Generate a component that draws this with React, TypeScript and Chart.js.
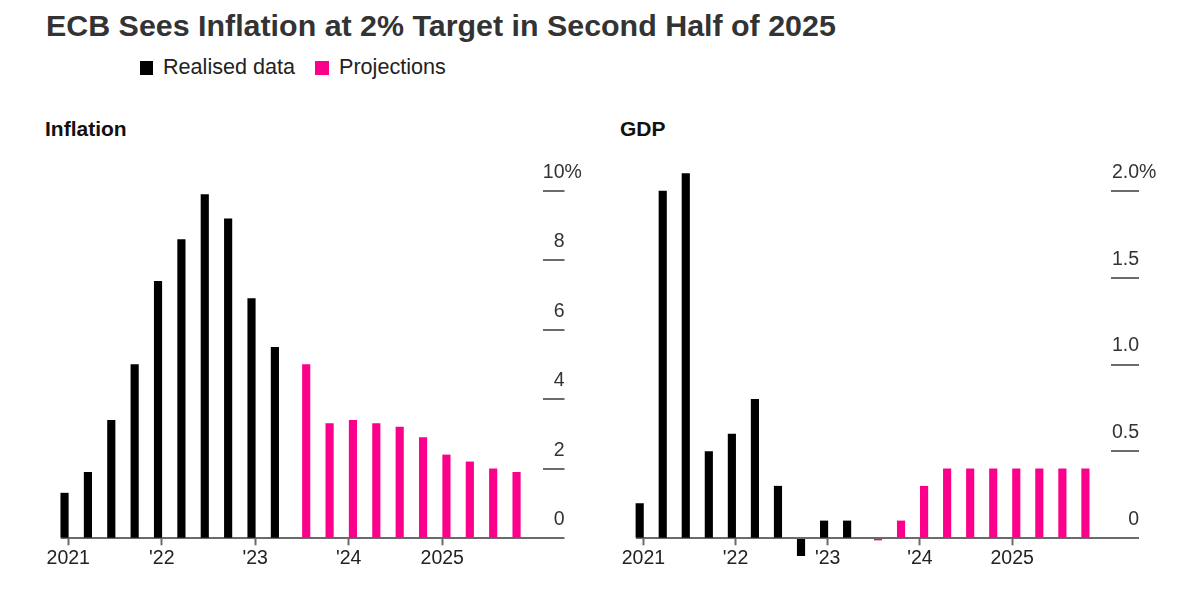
import React, { useEffect, useRef } from "react";
import { Chart, registerables } from "chart.js";

Chart.register(...registerables);

const FONT = '"Liberation Sans", Arial, Helvetica, sans-serif';

// ---- data ----
const quarters = [
  "2021 Q1", "2021 Q2", "2021 Q3", "2021 Q4",
  "2022 Q1", "2022 Q2", "2022 Q3", "2022 Q4",
  "2023 Q1", "2023 Q2", "2023 Q3", "2023 Q4",
  "2024 Q1", "2024 Q2", "2024 Q3", "2024 Q4",
  "2025 Q1", "2025 Q2", "2025 Q3", "2025 Q4",
];
const realisedQuarterCount = 10;

const inflationRealised = [1.3, 1.9, 3.4, 5.0, 7.4, 8.6, 9.9, 9.2, 6.9, 5.5];
const inflationProjected = [5.0, 3.3, 3.4, 3.3, 3.2, 2.9, 2.4, 2.2, 2.0, 1.9];

const gdpRealised = [0.2, 2.0, 2.1, 0.5, 0.6, 0.8, 0.3, -0.1, 0.1, 0.1];
const gdpProjected = [-0.01, 0.1, 0.3, 0.4, 0.4, 0.4, 0.4, 0.4, 0.4, 0.4];

const yearTickLabels = ["2021", "'22", "'23", "'24", "2025"];
const yearTickQuarter = ["2021 Q1", "2022 Q1", "2023 Q1", "2024 Q1", "2025 Q1"];

const inflationTickValues = [0, 2, 4, 6, 8, 10];
const inflationTickLabels = ["0", "2", "4", "6", "8", "10"];
const gdpTickValues = [0, 0.5, 1.0, 1.5, 2.0];
const gdpTickLabels = ["0", "0.5", "1.0", "1.5", "2.0"];

// ---- styling ----
const BLACK = "#000000";
const PINK = "#fb008a";
const AXIS_GRAY = "#6b6b6b";
const REALISED_SHIFT = -0.16;
const PROJECTED_SHIFT = 0.18;

const yLabelPlugin = {
  id: "yTickLabels",
  afterDraw(chart: any, _args: any, opts: any) {
    const scale = chart.scales.y;
    const ctx = chart.ctx;
    const xr = scale.left + opts.tickLength;
    ctx.save();
    ctx.font = `19.5px ${FONT}`;
    ctx.fillStyle = "#333333";
    ctx.textBaseline = "middle";
    const vals: number[] = opts.values;
    vals.forEach((v, k) => {
      const y = scale.getPixelForValue(v) - 18.7;
      ctx.textAlign = "right";
      ctx.fillText(opts.labels[k], xr, y);
      if (k === vals.length - 1) {
        ctx.textAlign = "left";
        ctx.fillText("%", xr, y);
      }
    });
    ctx.restore();
  },
};

type PanelProps = {
  left: number;
  realised: number[];
  projected: number[];
  yMax: number;
  tickValues: number[];
  tickLabels: string[];
  padLeft: number;
  padRight: number;
  yTickLength: number;
};

function Panel(props: PanelProps) {
  const ref = useRef<HTMLCanvasElement | null>(null);
  useEffect(() => {
    if (!ref.current) return;
    const tickPositions = yearTickQuarter.map((q) => quarters.indexOf(q));
    const chart = new Chart(ref.current, {
      type: "bar",
      data: {
        datasets: [
          {
            label: "Realised data",
            data: props.realised.map((v, i) => ({ x: i + REALISED_SHIFT, y: v })),
            backgroundColor: BLACK,
            barThickness: 7.5,
            grouped: false,
            clip: false,
            borderWidth: 0,
          } as any,
          {
            label: "Projections",
            data: props.projected.map((v, i) => ({
              x: realisedQuarterCount + i + PROJECTED_SHIFT,
              y: v,
            })),
            backgroundColor: PINK,
            barThickness: 7.5,
            grouped: false,
            clip: false,
            borderWidth: 0,
          } as any,
        ],
      },
      options: {
        animation: false,
        responsive: false,
        events: [],
        layout: {
          padding: { left: props.padLeft, right: props.padRight, top: 41, bottom: 20.7 },
        },
        plugins: {
          legend: { display: false },
          tooltip: { enabled: false },
          yTickLabels: {
            values: props.tickValues,
            labels: props.tickLabels,
            tickLength: props.yTickLength,
          },
        } as any,
        scales: {
          x: {
            type: "linear",
            min: -0.32,
            max: 20.29,
            bounds: "data",
            offset: false,
            afterBuildTicks: (s: any) => {
              s.ticks = tickPositions.map((v) => ({ value: v }));
            },
            afterFit: (s: any) => {
              s.height = 30;
            },
            grid: {
              drawOnChartArea: false,
              drawTicks: true,
              tickLength: 7,
              tickColor: AXIS_GRAY,
              tickWidth: 2,
              offset: false,
            },
            border: { display: false },
            ticks: {
              autoSkip: false,
              maxRotation: 0,
              padding: 2,
              color: "#222222",
              font: { size: 19.5, family: FONT },
              callback: (_v: any, i: number) => yearTickLabels[i],
            },
          } as any,
          y: {
            type: "linear",
            position: "right",
            min: 0,
            max: props.yMax,
            afterBuildTicks: (s: any) => {
              s.ticks = props.tickValues.map((v) => ({ value: v }));
            },
            afterFit: (s: any) => {
              s.width = props.yTickLength;
            },
            grid: {
              drawOnChartArea: true,
              color: (c: any) => (c.tick && c.tick.value === 0 ? AXIS_GRAY : "rgba(0,0,0,0)"),
              lineWidth: (c: any) => (c.tick && c.tick.value === 0 ? 2 : 0),
              drawTicks: true,
              tickLength: props.yTickLength,
              tickColor: AXIS_GRAY,
              tickWidth: 2,
            },
            border: { display: false },
            ticks: { display: false },
          } as any,
        },
      },
      plugins: [yLabelPlugin as any],
    });
    return () => chart.destroy();
  }, []);
  return (
    <canvas
      ref={ref}
      width={600}
      height={439}
      style={{ position: "absolute", left: props.left, top: 150, width: 600, height: 439 }}
    />
  );
}

const textBase: React.CSSProperties = {
  position: "absolute",
  fontFamily: FONT,
  whiteSpace: "nowrap",
  margin: 0,
};

export default function App() {
  return (
    <div
      style={{
        position: "absolute",
        left: 0,
        top: 0,
        width: 1200,
        height: 589,
        background: "#ffffff",
        overflow: "hidden",
      }}
    >
      <div
        style={{
          ...textBase,
          left: 46,
          top: 10.4,
          fontSize: 30.4,
          lineHeight: "30px",
          fontWeight: 700,
          color: "#333333",
        }}
      >
        ECB Sees Inflation at 2% Target in Second Half of 2025
      </div>

      <div style={{ position: "absolute", left: 139.5, top: 61, width: 13.5, height: 13.5, background: BLACK }} />
      <div style={{ ...textBase, left: 163, top: 55.9, fontSize: 21.6, lineHeight: "21px", color: "#222222" }}>
        Realised data
      </div>
      <div style={{ position: "absolute", left: 315, top: 61, width: 13.5, height: 13.5, background: PINK }} />
      <div style={{ ...textBase, left: 339, top: 55.9, fontSize: 21.6, lineHeight: "21px", color: "#222222" }}>
        Projections
      </div>

      <div
        style={{ ...textBase, left: 45, top: 118.2, fontSize: 21, lineHeight: "21px", fontWeight: 700, color: "#111111" }}
      >
        Inflation
      </div>
      <div
        style={{ ...textBase, left: 620, top: 118.2, fontSize: 21, lineHeight: "21px", fontWeight: 700, color: "#111111" }}
      >
        GDP
      </div>

      <Panel
        left={0}
        realised={inflationRealised}
        projected={inflationProjected}
        yMax={10}
        tickValues={inflationTickValues}
        tickLabels={inflationTickLabels}
        padLeft={60.8}
        padRight={35.5}
        yTickLength={22}
      />
      <Panel
        left={600}
        realised={gdpRealised}
        projected={gdpProjected}
        yMax={2}
        tickValues={gdpTickValues}
        tickLabels={gdpTickLabels}
        padLeft={36}
        padRight={61}
        yTickLength={28}
      />
    </div>
  );
}
